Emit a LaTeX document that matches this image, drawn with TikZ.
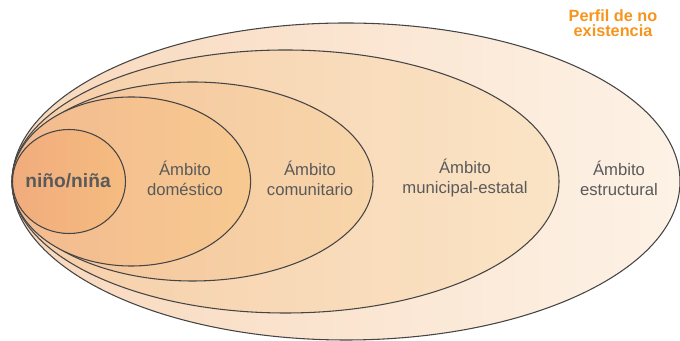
\documentclass[tikz,border=0pt]{standalone}
\usepackage{fontspec}
\setmainfont{Liberation Sans}
\usetikzlibrary{positioning}

\definecolor{ringgray}{HTML}{454545}
\definecolor{labelgray}{HTML}{5A5A5A}
\definecolor{perfilorange}{HTML}{F7941D}

\begin{document}
\begin{tikzpicture}[
  x = 0.75pt, y = 0.75pt,
  ring/.style = {draw=ringgray, line width=0.8pt},
  lbl/.style  = {text=labelgray, align=center, font=\fontsize{12.5}{15}\selectfont}
]
\useasboundingbox (0,0) rectangle (680,341);

% nested areas, all touching at the left
\shadedraw[ring, left color={rgb,255:red,248;green,216;blue,188}, right color={rgb,255:red,253;green,242;blue,230}]
  (346,159.5) ellipse [x radius=334, y radius=158.5];   % estructural
\shadedraw[ring, left color={rgb,255:red,246;green,206;blue,168}, right color={rgb,255:red,250;green,228;blue,198}]
  (285.5,159.5) ellipse [x radius=273.5, y radius=131.5]; % municipal-estatal
\shadedraw[ring, left color={rgb,255:red,244;green,196;blue,156}, right color={rgb,255:red,248;green,213;blue,170}]
  (192.5,159.5) ellipse [x radius=180.5, y radius=99.5];  % comunitario
\shadedraw[ring, left color={rgb,255:red,243;green,186;blue,144}, right color={rgb,255:red,247;green,201;blue,144}]
  (131.3,159.5) ellipse [x radius=119.3, y radius=84.5];  % domestico
\shadedraw[ring, left color={rgb,255:red,241;green,172;blue,125}, right color={rgb,255:red,245;green,188;blue,128}]
  (69,159.5) ellipse [x radius=56.5, y radius=52];        % nino/nina

\node (nino) at (68,160) [text=labelgray, font=\fontsize{14.4}{17}\selectfont\bfseries] {niño/niña};
\node (dom) at (185,163) [lbl] {Ámbito\\doméstico};
\node (com) at (310,163) [lbl] {Ámbito\\comunitario};
\node (mun) at (465,163) [lbl] {Ámbito\\municipal-estatal};
\node (est) at (619,163) [lbl] {Ámbito\\estructural};

\node (perfil) at (613,318) [text=perfilorange, align=center,
  font=\fontsize{12.2}{11}\selectfont\bfseries] {Perfil de no\\existencia};

\end{tikzpicture}
\end{document}
